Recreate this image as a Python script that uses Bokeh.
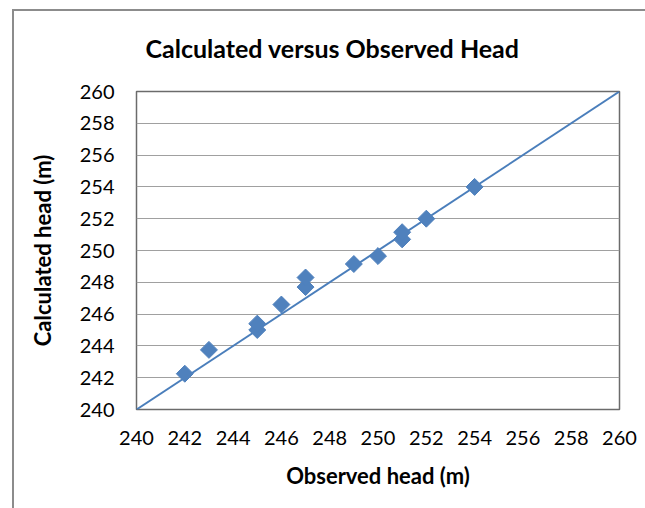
from bokeh.plotting import figure
from bokeh.models import FixedTicker, Range1d, Title
from bokeh.embed import file_html
from bokeh.resources import INLINE
import math

observed = [242, 243, 245, 245, 246, 247, 247, 249, 250, 251, 251, 252, 254]
calculated = [242.25, 243.75, 245.0, 245.4, 246.6, 247.7, 248.3, 249.15, 249.65, 250.7, 251.15, 252.0, 254.0]
line_x = [240, 260]
line_y = [240, 260]
ticks = [240, 242, 244, 246, 248, 250, 252, 254, 256, 258, 260]

FONT = "Lato"

p = figure(width=645, height=508, output_backend="svg", toolbar_location=None,
           x_range=Range1d(240, 260), y_range=Range1d(240, 260),
           min_border_left=136, min_border_right=26, min_border_top=91, min_border_bottom=99)
p.styles = {
    "background-color": "white",
    "background-image": "linear-gradient(#8c8c8c, #8c8c8c), linear-gradient(#8c8c8c, #8c8c8c)",
    "background-size": "100% 2px, 2px 100%",
    "background-position": "12px 9px, 12px 9px",
    "background-repeat": "no-repeat",
}

p.title = Title(text="Calculated versus Observed Head", align="left", offset=9,
                text_font=FONT, text_font_size="25px", text_font_style="bold",
                text_color="#000000", standoff=58)

p.line(line_x, line_y, line_color="#4a7ebb", line_width=2)
p.scatter(observed, calculated, marker="square", size=12, angle=math.pi / 4,
          fill_color="#4f81bd", line_color="#4f81bd")

for ax in (p.xaxis[0], p.yaxis[0]):
    ax.ticker = FixedTicker(ticks=ticks)
    ax.axis_line_color = None
    ax.major_tick_line_color = None
    ax.minor_tick_line_color = None
    ax.major_tick_out = 0
    ax.major_tick_in = 0
    ax.major_label_text_font = FONT
    ax.major_label_text_font_size = "20px"
    ax.major_label_text_color = "#000000"
    ax.axis_label_text_font = FONT
    ax.axis_label_text_font_size = "22px"
    ax.axis_label_text_font_style = "bold"
    ax.axis_label_text_color = "#000000"

p.xaxis.axis_label = "Observed head (m)"
p.yaxis.axis_label = "Calculated head (m)"
p.yaxis.major_label_standoff = 22
p.yaxis.axis_label_standoff = 21
p.xaxis.major_label_standoff = 21
p.xaxis.axis_label_standoff = 14

p.xgrid.grid_line_color = None
p.ygrid.grid_line_color = "#a0a0a0"
p.ygrid.grid_line_width = 1
p.ygrid.ticker = FixedTicker(ticks=ticks)

p.outline_line_color = "#6b6b6b"
p.outline_line_width = 1.5
p.background_fill_color = "white"
p.border_fill_color = None

open("out.html", "w").write(file_html(p, INLINE))
